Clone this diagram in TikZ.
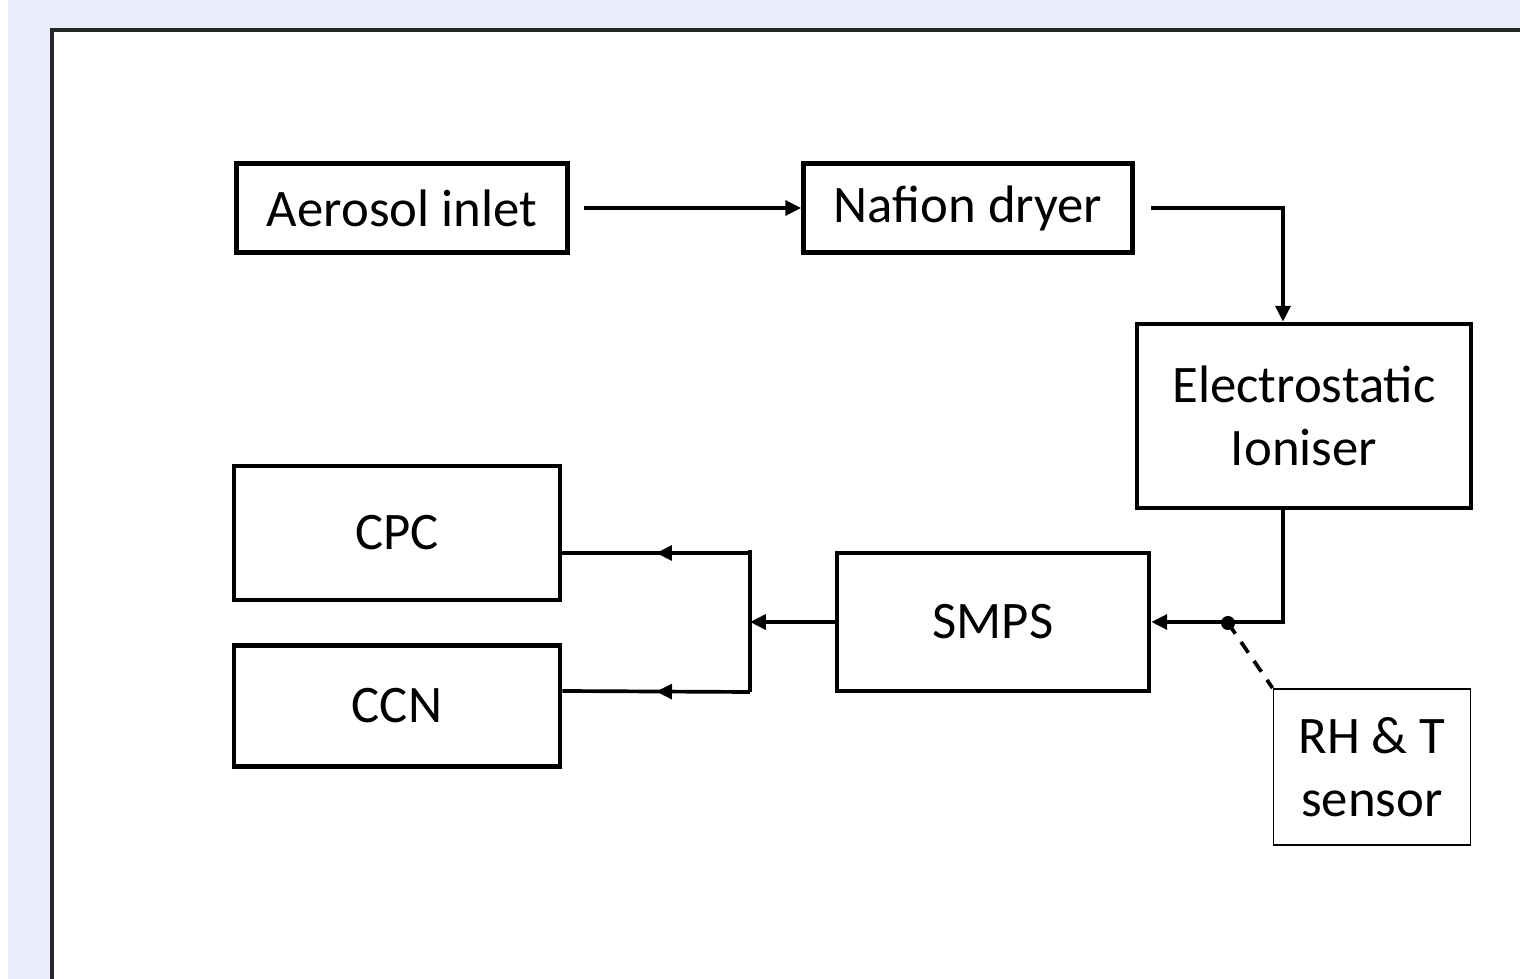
\documentclass[tikz,border=0pt]{standalone}
\usepackage{fontspec}
\setmainfont{Carlito}
\usetikzlibrary{arrows.meta,decorations.markings}
\definecolor{bgblue}{RGB}{233,238,250}

\begin{document}
\begin{tikzpicture}[x=0.01cm,y=-0.01cm,
	box/.style={draw,line width=1.25pt,inner sep=0pt,align=center,font=\fontsize{15}{18}\selectfont},
	flow/.style={line width=1.05pt,-{Triangle[length=4.5pt,width=4.2pt]}},
	pipe/.style={line width=1.05pt},
	midarrow/.style={pipe,decoration={markings,mark=at position 0.5 with {\arrow{Triangle[length=4.5pt,width=4.2pt]}}},postaction={decorate}}]
	% page and frame
	\useasboundingbox (0,0) rectangle (1520,979);
	\fill[bgblue] (8,0) rectangle (1520,979);
	\fill[white] (52,30) rectangle (1520,979);
	\draw[line width=0.9pt,black!85] (52,990) -- (52,30) -- (1530,30);
	% units
	\node[box,minimum width=3.31cm,minimum height=0.89cm] (inlet) at (402,208) {Aerosol inlet};
	\node[box,minimum width=3.29cm,minimum height=0.89cm] (dryer) at (968,208) {Nafion dryer};
	\node[box,minimum width=3.34cm,minimum height=1.84cm] (ioniser) at (1304,416) {Electrostatic\\Ioniser};
	\node[box,minimum width=3.12cm,minimum height=1.38cm] (smps) at (993,622) {SMPS};
	\node[box,minimum width=3.26cm,minimum height=1.34cm] (cpc) at (397,533) {CPC};
	\node[box,minimum width=3.26cm,minimum height=1.21cm] (ccn) at (397,706) {CCN};
	\node[box,line width=0.5pt,minimum width=1.97cm,minimum height=1.56cm] (sensor) at (1372,767) {RH \& T\\sensor};
	% flow path
	\coordinate (drop) at ([xshift=-0.21cm]ioniser.north);
	\coordinate (rise) at ([xshift=-0.21cm]ioniser.south);
	\coordinate (junc) at (1228,623);
	\coordinate (btop) at (750,550);
	\coordinate (bbot) at (750,692);
	\coordinate (cpcin) at ([yshift=-0.2cm]cpc.east);
	\coordinate (ccnin) at ([yshift=0.15cm]ccn.east);
	\draw[flow] ([xshift=0.14cm]inlet.east) -- (dryer.west);
	\draw[flow] ([xshift=0.16cm]dryer.east) -| (drop);
	\draw[flow] (rise) |- (smps.east);
	\fill (junc) circle (0.07cm);
	\draw[pipe,dash pattern=on 0.13cm off 0.1cm] (junc) -- (sensor.north west);
	\draw[flow] (smps.west) -- (smps.west -| btop);
	\draw[pipe] (btop) -- (bbot);
	\draw[midarrow] (cpcin -| btop) -- (cpcin);
	\draw[midarrow] (bbot) -- (ccnin);
\end{tikzpicture}
\end{document}
